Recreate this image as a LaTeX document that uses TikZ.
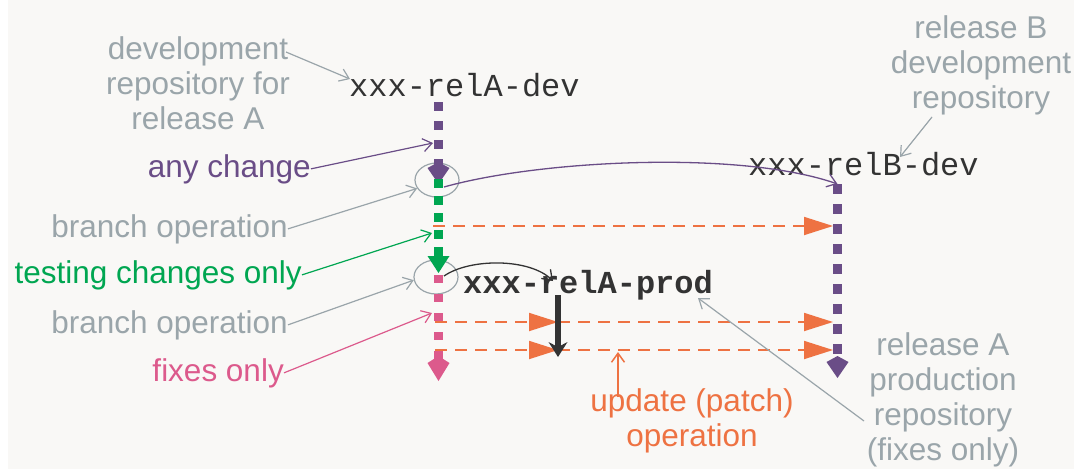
\documentclass[tikz,border=0pt]{standalone}
\usepackage{fontspec}
\setmainfont{Liberation Sans}
\newfontfamily\codefont{Liberation Mono}
\usetikzlibrary{arrows.meta,shapes.geometric}

\definecolor{bg}{RGB}{249,248,246}
\definecolor{note}{RGB}{154,165,170}
\definecolor{devpurple}{RGB}{106,77,135}
\definecolor{testgreen}{RGB}{0,166,81}
\definecolor{fixpink}{RGB}{220,90,140}
\definecolor{patch}{RGB}{238,114,66}
\definecolor{ink}{RGB}{51,51,51}

\begin{document}
\begin{tikzpicture}[x=1pt,y=-1pt,
  lbl/.style={inner sep=0pt, font=\fontsize{31.5}{35}\selectfont},
  repo/.style={inner sep=0pt, font=\codefont\fontsize{32}{36}\selectfont, text=ink},
  barb/.style={-{Straight Barb[length=9pt,width=13pt]}},
  notearrow/.style={draw=note, line width=1.2pt, barb},
  branchring/.style={draw=note, line width=1.2pt, ellipse, inner sep=0pt,
                     minimum width=44pt, minimum height=34pt},
  flow/.style={line width=9.5pt, line cap=butt},
  kitehead/.style={-{Kite[length=22pt,width=22pt,inset=6pt,line width=0pt]}},
  patchline/.style={draw=patch, line width=1.8pt, dash pattern=on 12pt off 8pt,
                    -{Triangle[length=29pt,width=18pt]}},
]
% canvas
\useasboundingbox (0,0) rectangle (1074,469);
\fill[bg] (8,0) rectangle (1074,469);

% repository names
\node[repo, anchor=base west] (reladev) at (349,96) {xxx-relA-dev};
\node[repo, anchor=base west] (relbdev) at (748,175) {xxx-relB-dev};
\node[repo, anchor=base west, font=\codefont\bfseries\fontsize{32}{36}\selectfont]
  (relaprod) at (463,293) {xxx-relA-prod};

% explanatory labels (base anchor sits on the last line)
\node[lbl, text=note, align=center, anchor=base] (devAnote) at (198,129)
  {development\\repository for\\release A};
\node[lbl, text=note, align=center, anchor=base] (devBnote) at (981,108)
  {release B\\development\\repository};
\node[lbl, text=note, align=center, anchor=base] (prodnote) at (943,460)
  {release A\\production\\repository\\(fixes only)};
\node[lbl, text=patch, align=center, anchor=base] (updnote) at (692,446)
  {update (patch)\\operation};
\node[lbl, text=devpurple, anchor=base east] (anynote) at (311,177) {any change};
\node[lbl, text=note, anchor=base east] (branchnoteA) at (288,237) {branch operation};
\node[lbl, text=testgreen, anchor=base east] (testnote) at (302,283) {testing changes only};
\node[lbl, text=note, anchor=base east] (branchnoteB) at (288,333) {branch operation};
\node[lbl, text=fixpink, anchor=base east] (fixnote) at (284,381) {fixes only};

% points on the repository lines
\coordinate (Atop) at (438.5,102);
\coordinate (devtip) at (438.5,184);
\coordinate (teststart) at (438.5,179);
\coordinate (testtip) at (438.5,273);
\coordinate (fixstart) at (438.5,275);
\coordinate (fixtip) at (438.5,381);
\coordinate (Btop) at (837.5,184);
\coordinate (Btip) at (837.5,378);

% branch points
\node[branchring] (ringA) at (437,180) {};
\node[branchring] (ringB) at (436,277) {};

% release A development line, then testing, then fixes
\draw[flow, devpurple, dash pattern=on 9pt off 10pt, kitehead] (Atop) -- (devtip);
\draw[flow, testgreen, dash pattern=on 9pt off 8pt,
      -{Triangle[length=17pt,width=22pt,line width=0pt]}] (teststart) -- (testtip);
\draw[flow, fixpink, dash pattern=on 8pt off 11pt,
      -{Kite[length=25pt,width=22pt,inset=7pt,line width=0pt]}] (fixstart) -- (fixtip);

% release B development line
\draw[flow, line width=9pt, devpurple, dash pattern=on 10pt off 10pt, kitehead] (Btop) -- (Btip);

% branch connectors
\coordinate (forkB) at (444,187);
\coordinate (forkP) at (444,276);
\coordinate (prodland) at (553,281);
\draw[devpurple, line width=1.3pt, barb] (forkB) .. controls (540,160) and (740,150) .. (Btop);
\draw[ink, line width=1.3pt, barb] (forkP) .. controls (470,258) and (530,258) .. (prodland);

% update (patch) operations
\coordinate (p1s) at (433,226); \coordinate (p1e) at (833,226);
\coordinate (p2s) at (435,322); \coordinate (p2m) at (558,322); \coordinate (p2e) at (833,322);
\coordinate (p3s) at (435,350); \coordinate (p3m) at (558,350); \coordinate (p3e) at (833,350);
\draw[patchline] (p1s) -- (p1e);
\draw[patchline] (p2s) -- (p2m);
\draw[patchline] (p2m) -- (p2e);
\draw[patchline] (p3s) -- (p3m);
\draw[patchline] (p3m) -- (p3e);

% production repository line
\coordinate (prodtop) at (558,295);
\coordinate (prodtip) at (558,357);
\draw[ink, line width=6pt, -{Stealth[length=15pt,width=19pt,inset=5pt,line width=0pt]}]
  (prodtop) -- (prodtip);

% annotation pointers
\coordinate (devAfrom) at (286,52);
\coordinate (devAto) at (350,79);
\coordinate (devBfrom) at (932,117);
\coordinate (devBto) at (900,157);
\coordinate (anyto) at (433,143);
\coordinate (testto) at (432,233);
\coordinate (fixto) at (432,313);
\coordinate (prodfrom) at (864,421);
\coordinate (prodto) at (698,298);
\coordinate (updfrom) at (618,397);
\coordinate (updto) at (618,352);

\draw[notearrow] (devAfrom) -- (devAto);
\draw[notearrow] (devBfrom) -- (devBto);
\draw[notearrow, draw=devpurple] (anynote.east) -- (anyto);
\draw[notearrow] (branchnoteA.east) -- (ringA.203);
\draw[notearrow, draw=testgreen] (testnote.east) -- (testto);
\draw[notearrow] (branchnoteB.east) -- (ringB.188);
\draw[notearrow, draw=fixpink] (fixnote.east) -- (fixto);
\draw[notearrow] (prodfrom) -- (prodto);
\draw[notearrow, draw=patch, line width=1.5pt] (updfrom) -- (updto);
\end{tikzpicture}
\end{document}
